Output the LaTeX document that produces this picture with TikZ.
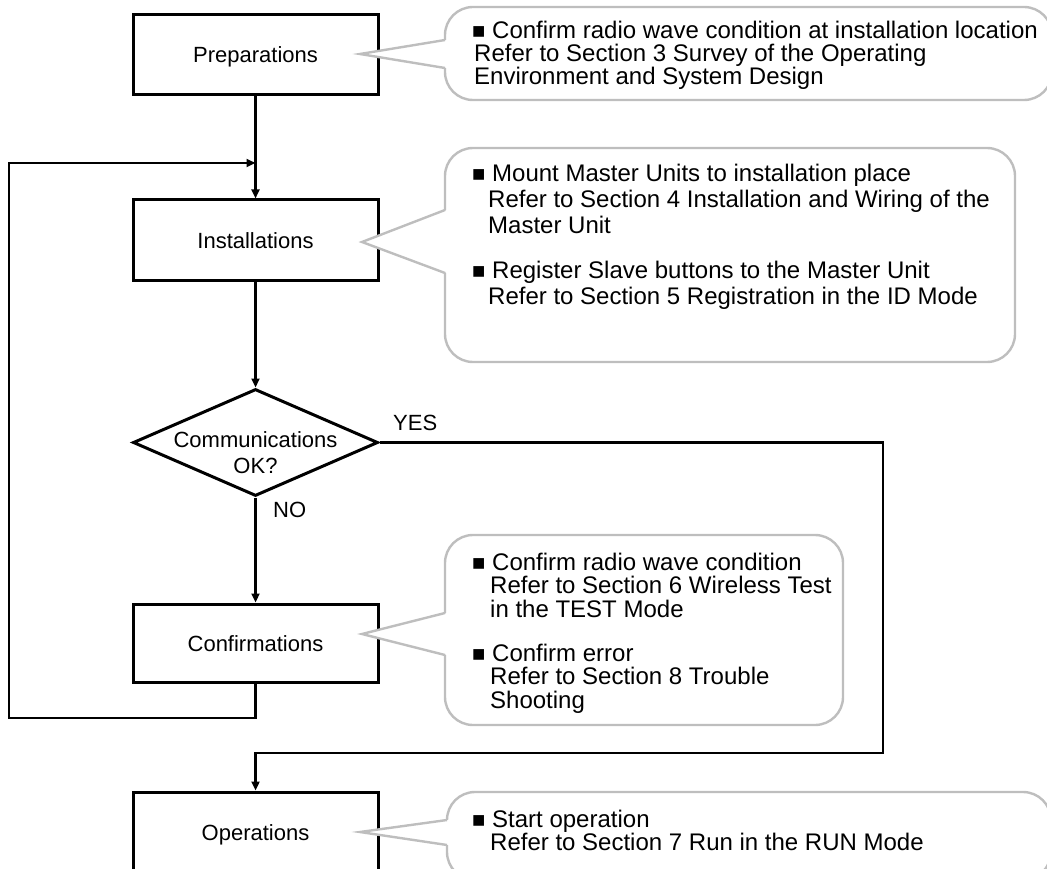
\documentclass[tikz,border=0pt]{standalone}
\usepackage{fontspec}
\setmainfont{Liberation Sans}
\usetikzlibrary{arrows.meta,shapes.geometric}
\definecolor{bubgray}{RGB}{190,190,190}
\newcommand\mybul{{\fontsize{22}{22}\selectfont ■}}
\begin{document}
\begin{tikzpicture}[x=1pt,y=-1pt,
  box/.style={draw=black, line width=3pt, minimum width=245pt, minimum height=80pt,
    inner sep=0pt, fill=white, font=\fontsize{22}{22}\selectfont, text height=16pt, text depth=0pt},
  conn/.style={line width=2.8pt, -{Triangle[length=9pt,width=8pt]}},
  bubble/.style={draw=bubgray, line width=2.4pt, rounded corners=28pt, fill=white},
  ptr/.style={draw=bubgray, line width=2.4pt, line join=miter},
  ctext/.style={anchor=base west, inner sep=0pt, font=\fontsize{24}{24}\selectfont},
  btext/.style={anchor=base west, inner sep=0pt},
  lbl/.style={anchor=base west, inner sep=0pt, font=\fontsize{22}{22}\selectfont},
  dtext/.style={anchor=base, inner sep=0pt, font=\fontsize{22}{22}\selectfont}
]
\useasboundingbox (0,0) rectangle (1047,869);
\clip (0,0) rectangle (1047,869);

% flow boxes
\node[box] (prep) at (255.5,55) {Preparations};
\node[box] (inst) at (255.5,240) {Installations};
\node[draw=black, line width=3pt, diamond, minimum width=245pt, minimum height=107pt, inner sep=0pt] (dec) at (255.5,442.5) {};
\node[dtext] (dec1) at (255.5,447) {Communications};
\node[dtext] (dec2) at (255.5,473) {OK?};
\node[box, minimum height=78pt] (conf) at (255.5,643) {Confirmations};
\node[box] (oper) at (255.5,832) {Operations};

% helper coordinates
\coordinate (merge) at (255.5,163);
\coordinate (loopL) at (9,718);
\coordinate (loopT) at (9,163);
\coordinate (yr) at (883,442.5);
\coordinate (yb) at (883,753);

% connectors
\draw[conn] (prep.south) -- (inst.north);
\draw[conn] (inst.south) -- (dec.north);
\draw[conn] (dec.south) -- (conf.north);
\draw[conn] (conf.south) |- (loopL) -- (loopT) -- (merge);
\draw[conn] (dec.east) -- (yr) -- (yb) -| (oper.north);

\node[lbl] (yes) at (393,430) {YES};
\node[lbl] (no) at (273,517) {NO};

% callout 1
\draw[bubble] (445,7) rectangle (1052,100);
\fill[white] (360,54) -- (447,40) -- (447,68) -- cycle;
\draw[ptr] (445,40) -- (360,54) -- (445,68);
\node[btext] (b1) at (472,39) {\mybul};
\node[ctext] (c1a) at (492,39) {Confirm radio wave condition at installation location};
\node[ctext] (c1b) at (474,62) {Refer to Section 3 Survey of the Operating};
\node[ctext] (c1c) at (474,85) {Environment and System Design};

% callout 2
\draw[bubble] (445,148) rectangle (1015,362);
\fill[white] (362,242) -- (447,210) -- (447,273) -- cycle;
\draw[ptr] (445,210) -- (362,242) -- (445,273);
\node[btext] (b2) at (472,182) {\mybul};
\node[ctext] (c2a) at (492,182) {Mount Master Units to installation place};
\node[ctext] (c2b) at (488,208) {Refer to Section 4 Installation and Wiring of the};
\node[ctext] (c2c) at (488,234) {Master Unit};
\node[btext] (b3) at (472,279) {\mybul};
\node[ctext] (c2d) at (492,279) {Register Slave buttons to the Master Unit};
\node[ctext] (c2e) at (488,304) {Refer to Section 5 Registration in the ID Mode};

% callout 3
\draw[bubble] (445,535) rectangle (843,725);
\fill[white] (362,634) -- (447,613) -- (447,655) -- cycle;
\draw[ptr] (445,613) -- (362,634) -- (445,655);
\node[btext] (b4) at (472,570) {\mybul};
\node[ctext] (c3a) at (492,570) {Confirm radio wave condition};
\node[ctext] (c3b) at (490,593.5) {Refer to Section 6 Wireless Test};
\node[ctext] (c3c) at (490,617) {in the TEST Mode};
\node[btext] (b5) at (472,661) {\mybul};
\node[ctext] (c3d) at (492,661) {Confirm error};
\node[ctext] (c3e) at (490,684.5) {Refer to Section 8 Trouble};
\node[ctext] (c3f) at (490,708) {Shooting};

% callout 4
\draw[bubble] (447,792) rectangle (1051,880);
\fill[white] (360,832) -- (449,820) -- (449,845) -- cycle;
\draw[ptr] (447,820) -- (360,832) -- (447,845);
\node[btext] (b6) at (472,827) {\mybul};
\node[ctext] (c4a) at (492,827) {Start operation};
\node[ctext] (c4b) at (490,850) {Refer to Section 7 Run in the RUN Mode};
\end{tikzpicture}
\end{document}
